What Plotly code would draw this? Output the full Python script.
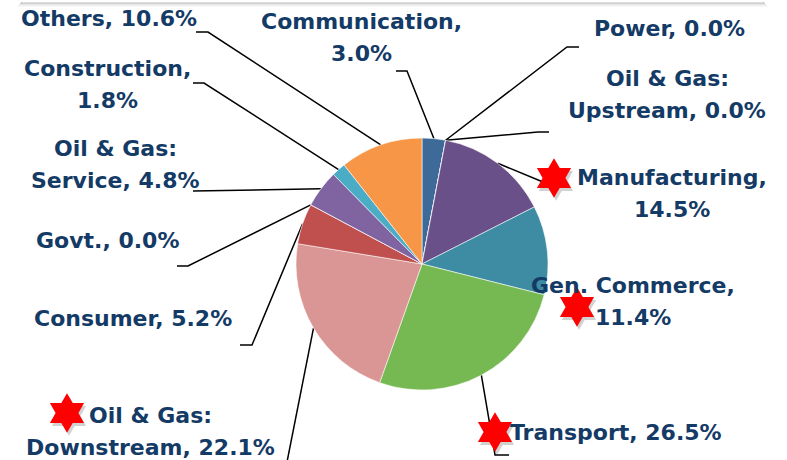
import math
import plotly.graph_objects as go

# Loan book by sector, clockwise from 12 o'clock (percent of total)
sectors = [
    "Communication", "Power", "Oil & Gas: Upstream", "Manufacturing",
    "Gen. Commerce", "Transport", "Oil & Gas: Downstream", "Consumer",
    "Govt.", "Oil & Gas: Service", "Construction", "Others",
]
shares = [3.0, 0.0, 0.0, 14.5, 11.4, 26.5, 22.1, 5.2, 0.0, 4.8, 1.8, 10.6]
colors = [
    "#3E6A9A", "#4F81BD", "#9BBB59", "#6A5089", "#3D8CA3", "#76B852",
    "#D99694", "#C0504D", "#8C8C8C", "#8064A2", "#4BACC6", "#F79646",
]
highlighted = ["Manufacturing", "Gen. Commerce", "Transport", "Oil & Gas: Downstream"]

W, H = 787, 460
CX, CY, R = 422, 264, 126          # pie centre / radius in pixels
TEXT = "#143A66"
FONT = "DejaVu Sans"
FS = 22
LINE_GAP = 32

# label placement: centre x, first-line y, value on its own line, leader path
labels = {
    "Communication":         dict(x=361, y=21,  wrap=True,  path=[(407, 71), (396, 71)]),
    "Power":                 dict(x=669, y=28,  wrap=False, path=[(567, 47), (579, 47)]),
    "Oil & Gas: Upstream":   dict(x=667, y=78,  wrap=False, path=[(538, 132), (549, 132)]),
    "Manufacturing":         dict(x=672, y=177, wrap=True,  path=[(543, 182)]),
    "Gen. Commerce":         dict(x=633, y=285, wrap=True,  path=None),
    "Transport":             dict(x=616, y=432, wrap=False, path=[(495, 455), (509, 455)]),
    "Oil & Gas: Downstream": dict(x=150, y=415, wrap=False, path=[(287, 462)]),
    "Consumer":              dict(x=133, y=318, wrap=False, path=[(252, 345), (240, 345)]),
    "Govt.":                 dict(x=107, y=240, wrap=False, path=[(188, 266), (177, 266)]),
    "Oil & Gas: Service":    dict(x=115, y=148, wrap=False, path=[(193, 191)]),
    "Construction":          dict(x=107, y=68,  wrap=True,  path=[(204, 83), (193, 83)]),
    "Others":                dict(x=109, y=18,  wrap=False, path=[(208, 32), (196, 32)]),
}
star_pos = {
    "Manufacturing": (554, 178),
    "Gen. Commerce": (577, 307),
    "Transport": (495, 432),
    "Oil & Gas: Downstream": (67, 413),
}

fig = go.Figure()

fig.add_trace(go.Pie(
    labels=sectors, values=shares, sort=False, direction="clockwise",
    rotation=0, textinfo="none", hoverinfo="label+percent",
    marker=dict(colors=colors, line=dict(color="rgba(255,255,255,0.7)", width=0.8)),
    domain=dict(x=[(CX - R) / W, (CX + R) / W],
                y=[(H - CY - R) / H, (H - CY + R) / H]),
    showlegend=False,
))

# leader lines start on the rim at each slice's angular middle
total = sum(shares)
cum = 0.0
for name, v in zip(sectors, shares):
    mid = (cum + v / 2) / total * 2 * math.pi
    cum += v
    spec = labels[name]
    if not spec["path"]:
        continue
    sx = CX + R * math.sin(mid)
    sy = CY - R * math.cos(mid)
    xs = [sx] + [p[0] for p in spec["path"]]
    ys = [sy] + [p[1] for p in spec["path"]]
    fig.add_trace(go.Scatter(x=xs, y=ys, mode="lines",
                             line=dict(color="black", width=1.5),
                             hoverinfo="skip", showlegend=False))

# red six-pointed stars with a soft drop shadow
sx_ = [star_pos[n][0] for n in highlighted]
sy_ = [star_pos[n][1] for n in highlighted]
fig.add_trace(go.Scatter(x=[x + 2 for x in sx_], y=[y + 3 for y in sy_], mode="markers",
                         marker=dict(symbol="hexagram", size=30, color="rgba(0,0,0,0.18)",
                                     line=dict(width=0)),
                         hoverinfo="skip", showlegend=False))
fig.add_trace(go.Scatter(x=sx_, y=sy_, mode="markers",
                         marker=dict(symbol="hexagram", size=30, color="#FF0000",
                                     line=dict(width=0)),
                         hoverinfo="skip", showlegend=False))

# category labels
for name, v in zip(sectors, shares):
    spec = labels[name]
    val = f"{v:.1f}%"
    if ": " in name:
        head, tail = name.split(": ")
        lines = [head + ":", f"{tail}, {val}"]
    elif spec["wrap"]:
        lines = [name + ",", val]
    else:
        lines = [f"{name}, {val}"]
    for i, t in enumerate(lines):
        fig.add_annotation(x=spec["x"], y=spec["y"] + i * LINE_GAP, text=t,
                           showarrow=False, xanchor="center", yanchor="middle",
                           font=dict(family=FONT, size=FS, color=TEXT, weight="bold"))

# bottom edge of the title box above, with its soft shadow
shadow = [("#7f7f7f", 0.55), ("#9a9a9a", 0.45), ("#b5b5b5", 0.35),
          ("#d0d0d0", 0.3), ("#e6e6e6", 0.3)]
for k, (c, a) in enumerate(shadow):
    fig.add_shape(type="rect", x0=21 - k, x1=764 + k, y0=2 + k, y1=3 + k,
                  line=dict(width=0), fillcolor=c, opacity=a, layer="below")
fig.add_shape(type="rect", x0=22, x1=763, y0=-5, y1=2.5,
              line=dict(width=0), fillcolor="white")

fig.update_layout(
    width=W, height=H, margin=dict(l=0, r=0, t=0, b=0),
    paper_bgcolor="white", plot_bgcolor="rgba(0,0,0,0)",
    xaxis=dict(range=[0, W], visible=False, domain=[0, 1], fixedrange=True),
    yaxis=dict(range=[H, 0], visible=False, domain=[0, 1], fixedrange=True),
)

fig.write_html("out.html")
